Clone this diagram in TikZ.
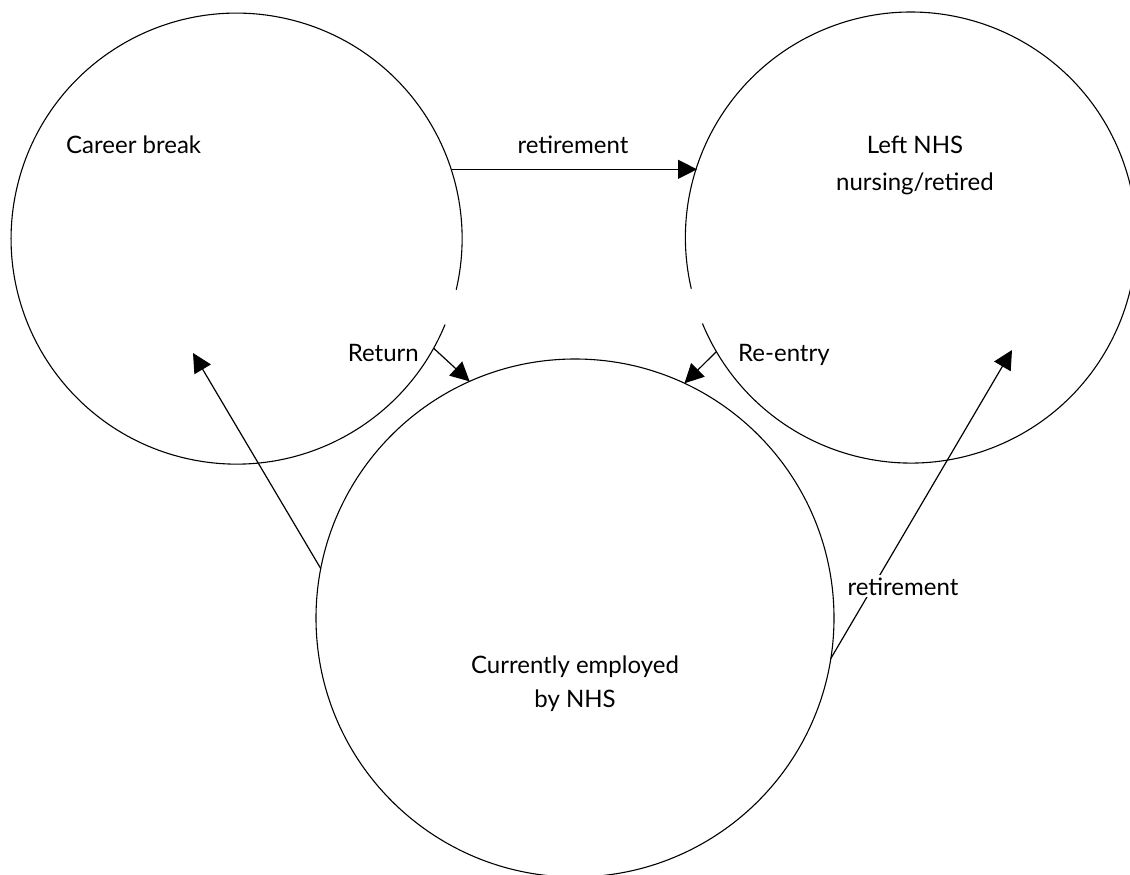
\documentclass[tikz,border=0pt]{standalone}
\usepackage{fontspec}
\setmainfont{Lato}
\usetikzlibrary{arrows.meta}
\begin{document}
\begin{tikzpicture}[x=1pt,y=-1pt,
  ring/.style={circle,inner sep=0pt,outer sep=0pt},
  ringline/.style={line width=1.1pt},
  conn/.style={line width=1.2pt,-{Triangle[length=19pt,width=19pt]}},
  lbl/.style={font=\fontsize{24}{34}\selectfont,inner sep=2pt}]
\useasboundingbox (0,0) rectangle (1130,875);
\clip (0,0) rectangle (1130,875);
% circles (as named nodes)
\node[ring,minimum size=451pt] (cb) at (236.5,239) {};
\node[ring,minimum size=451pt] (left) at (911.5,239) {};
\node[ring,minimum size=518pt] (emp) at (575,618) {};
% drawn outlines, with the small gaps of the original
\draw[ringline] (cb.-13.1) arc[start angle=-13.1, end angle=337.6, radius=225.5pt];
\draw[ringline] (left.202.4) arc[start angle=202.4, end angle=553.1, radius=225.5pt];
\draw[ringline] (emp) circle[radius=259pt];
% connectors
\coordinate (cbin) at (193,353);
\coordinate (leftin) at (1012,350);
\draw[conn] (cb.18) -- (left.162);
\draw[conn] (cb.-29.5) -- (emp.114.6);
\draw[conn] (left.210.4) -- (emp.65.3);
\draw[conn] (emp.169) -- (cbin);
\draw[conn] (emp.-9.3) -- (leftin);
% labels
\node[lbl,anchor=base west] (tcb) at (64,153) {Career break};
\node[lbl,anchor=base] (tret1) at (573,153) {retirement};
\node[lbl,anchor=base] (tleft1) at (915,153) {Left NHS};
\node[lbl,anchor=base] (tleft2) at (915,190) {nursing/retired};
\node[lbl,anchor=base east] (tret) at (421,361) {Return};
\node[lbl,anchor=base west] (tre) at (736,361) {Re-entry};
\node[lbl,anchor=base,fill=white] (tret2) at (903,595) {retirement};
\node[lbl,anchor=base] (temp1) at (575,673) {Currently employed};
\node[lbl,anchor=base] (temp2) at (575,707) {by NHS};
\end{tikzpicture}
\end{document}
